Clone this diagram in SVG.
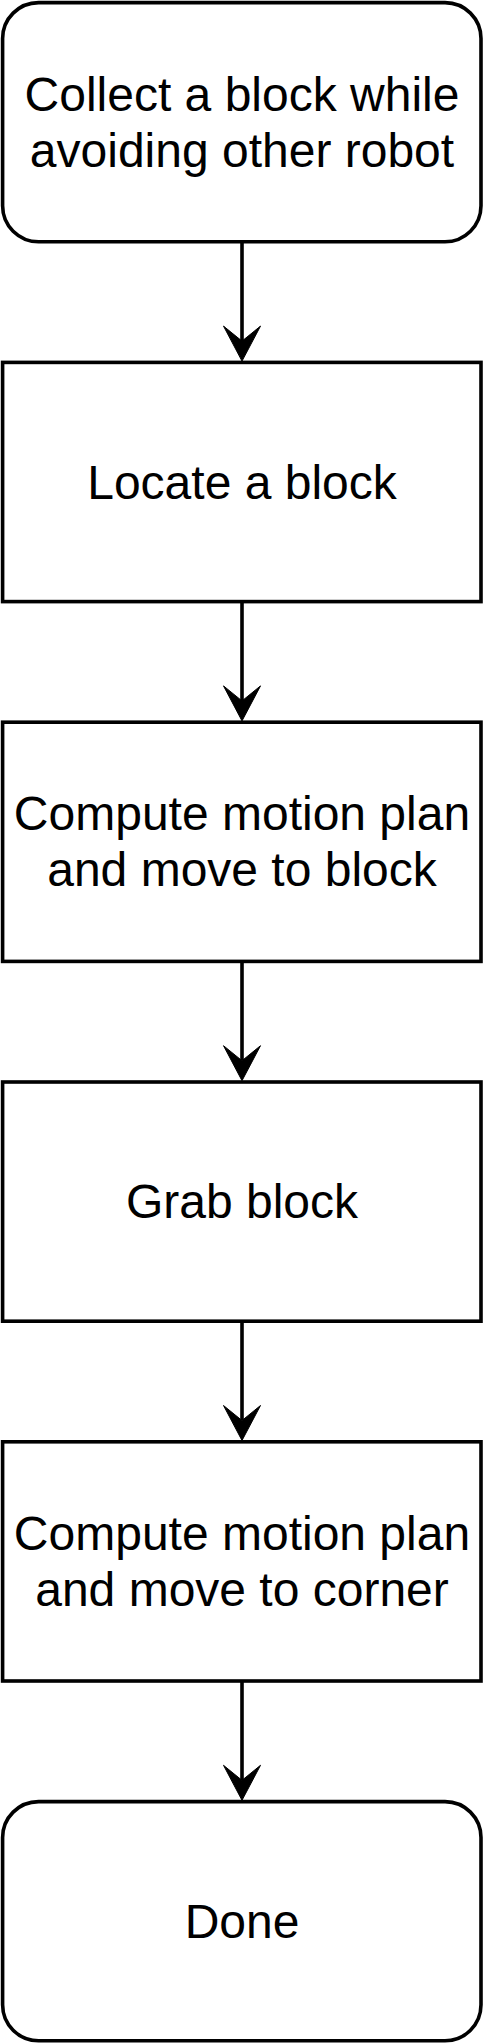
<svg xmlns="http://www.w3.org/2000/svg" width="484" height="2044" viewBox="0 0 484 2044">
  <style>
    .box { fill: #ffffff; stroke: #000000; stroke-width: 3.6; }
    .lbl { font-family: "Liberation Sans", Arial, Helvetica, sans-serif; font-size: 48px; fill: #000000; text-anchor: middle; }
    .edge { fill: none; stroke: #000000; stroke-width: 3.6; marker-end: url(#arrow); }
  </style>
  <defs>
    <marker id="arrow" markerUnits="userSpaceOnUse" viewBox="-37 -21 42 42" markerWidth="42" markerHeight="42" refX="-20" refY="0" orient="auto">
      <path d="M0,0 L-35,-18.5 L-20,0 L-35,18.5 Z" fill="#000000" stroke="#000000" stroke-width="1" stroke-linejoin="miter"/>
    </marker>
  </defs>
  <rect width="484" height="2044" fill="#ffffff"/>

  <g id="connectors">
    <path class="edge" d="M242,241.8 L242,341.1"/>
    <path class="edge" d="M242,601.6 L242,700.9"/>
    <path class="edge" d="M242,961.4 L242,1060.7"/>
    <path class="edge" d="M242,1321.2 L242,1420.5"/>
    <path class="edge" d="M242,1681 L242,1780.3"/>
  </g>

  <g id="node-collect">
    <rect class="box" x="2.6" y="2.6" width="478.4" height="239.2" rx="36" ry="36"/>
    <text class="lbl" x="242" y="110.5">Collect a block while</text>
    <text class="lbl" x="242" y="166.5">avoiding other robot</text>
  </g>

  <g id="node-locate">
    <rect class="box" x="2.6" y="362.4" width="478.4" height="239.2"/>
    <text class="lbl" x="242" y="498.8">Locate a block</text>
  </g>

  <g id="node-move-block">
    <rect class="box" x="2.6" y="722.2" width="478.4" height="239.2"/>
    <text class="lbl" x="242" y="830.1">Compute motion plan</text>
    <text class="lbl" x="242" y="886.3">and move to block</text>
  </g>

  <g id="node-grab">
    <rect class="box" x="2.6" y="1082" width="478.4" height="239.2"/>
    <text class="lbl" x="242" y="1218.4">Grab block</text>
  </g>

  <g id="node-move-corner">
    <rect class="box" x="2.6" y="1441.8" width="478.4" height="239.2"/>
    <text class="lbl" x="242" y="1549.7">Compute motion plan</text>
    <text class="lbl" x="242" y="1605.9">and move to corner</text>
  </g>

  <g id="node-done">
    <rect class="box" x="2.6" y="1801.6" width="478.4" height="239.2" rx="36" ry="36"/>
    <text class="lbl" x="242" y="1938">Done</text>
  </g>
</svg>
